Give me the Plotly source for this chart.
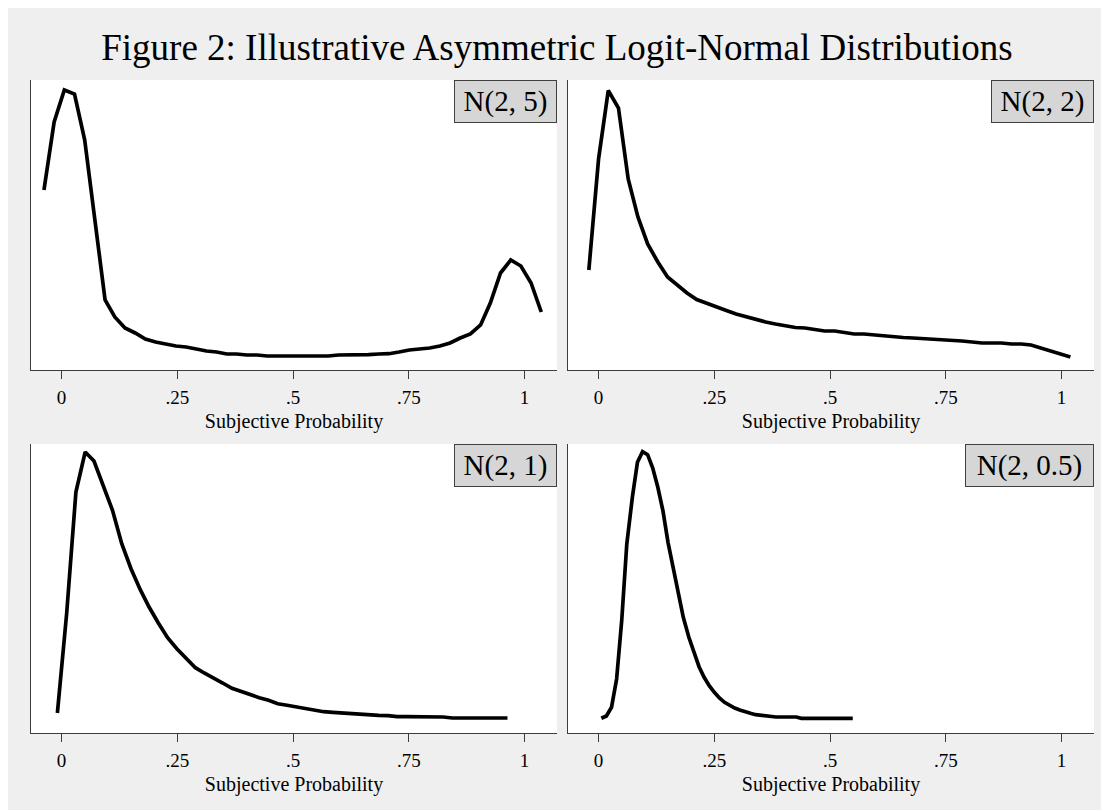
import plotly.graph_objects as go

# Kernel density curves (x = subjective probability, y = density)
x_sd5 = [-0.038, -0.016, 0.006, 0.028, 0.050, 0.072, 0.094, 0.115, 0.137, 0.159,
         0.181, 0.203, 0.225, 0.247, 0.269, 0.291, 0.313, 0.335, 0.357, 0.378,
         0.400, 0.422, 0.444, 0.466, 0.488, 0.510, 0.532, 0.554, 0.576, 0.598,
         0.620, 0.642, 0.663, 0.685, 0.707, 0.729, 0.751, 0.773, 0.795, 0.817,
         0.839, 0.861, 0.883, 0.905, 0.926, 0.948, 0.970, 0.992, 1.014, 1.036]
y_sd5 = [1.80, 2.48, 2.80, 2.76, 2.30, 1.47, 0.70, 0.53, 0.42, 0.37,
         0.31, 0.28, 0.26, 0.24, 0.23, 0.21, 0.19, 0.18, 0.16, 0.16,
         0.15, 0.15, 0.14, 0.14, 0.14, 0.14, 0.14, 0.14, 0.14, 0.15,
         0.15, 0.15, 0.153, 0.16, 0.163, 0.18, 0.20, 0.21, 0.22, 0.24,
         0.27, 0.32, 0.36, 0.45, 0.67, 0.97, 1.10, 1.04, 0.87, 0.58]

x_sd2 = [-0.021, 0.000, 0.021, 0.043, 0.064, 0.085, 0.106, 0.128, 0.149, 0.170,
         0.191, 0.212, 0.234, 0.255, 0.276, 0.297, 0.319, 0.340, 0.361, 0.382,
         0.403, 0.425, 0.446, 0.467, 0.488, 0.510, 0.531, 0.552, 0.573, 0.594,
         0.616, 0.637, 0.658, 0.679, 0.701, 0.722, 0.743, 0.764, 0.785, 0.807,
         0.828, 0.849, 0.870, 0.892, 0.913, 0.934, 0.955, 0.976, 0.998, 1.019]
y_sd2 = [1.00, 2.11, 2.795, 2.62, 1.91, 1.53, 1.26, 1.08, 0.93, 0.85,
         0.77, 0.705, 0.67, 0.635, 0.595, 0.56, 0.53, 0.505, 0.48, 0.46,
         0.44, 0.425, 0.42, 0.405, 0.39, 0.39, 0.375, 0.36, 0.36, 0.35,
         0.34, 0.335, 0.325, 0.32, 0.315, 0.305, 0.30, 0.30, 0.29, 0.28,
         0.27, 0.27, 0.27, 0.26, 0.26, 0.25, 0.22, 0.19, 0.16, 0.13]

x_sd1 = [-0.009, 0.011, 0.031, 0.051, 0.070, 0.090, 0.110, 0.130, 0.150, 0.170,
         0.189, 0.209, 0.229, 0.249, 0.269, 0.289, 0.308, 0.328, 0.348, 0.368,
         0.388, 0.408, 0.427, 0.447, 0.467, 0.487, 0.507, 0.527, 0.547, 0.566,
         0.586, 0.606, 0.626, 0.646, 0.666, 0.685, 0.705, 0.725, 0.745, 0.765,
         0.785, 0.804, 0.824, 0.844, 0.864, 0.884, 0.904, 0.924, 0.943, 0.963]
y_sd1 = [0.20, 1.193, 2.41, 2.81, 2.72, 2.477, 2.227, 1.893, 1.643, 1.433,
         1.26, 1.10, 0.953, 0.843, 0.743, 0.653, 0.60, 0.553, 0.50, 0.447,
         0.413, 0.383, 0.353, 0.327, 0.293, 0.277, 0.26, 0.247, 0.23, 0.213,
         0.207, 0.20, 0.193, 0.183, 0.18, 0.177, 0.173, 0.163, 0.163, 0.163,
         0.163, 0.163, 0.16, 0.15, 0.15, 0.15, 0.15, 0.15, 0.15, 0.15]

x_sd05 = [0.006, 0.017, 0.028, 0.039, 0.050, 0.061, 0.073, 0.084, 0.095, 0.106,
          0.117, 0.128, 0.139, 0.150, 0.161, 0.172, 0.183, 0.195, 0.206, 0.217,
          0.228, 0.239, 0.250, 0.261, 0.272, 0.283, 0.294, 0.305, 0.317, 0.328,
          0.339, 0.350, 0.361, 0.372, 0.383, 0.394, 0.405, 0.416, 0.427, 0.438,
          0.450, 0.461, 0.472, 0.483, 0.494, 0.505, 0.516, 0.527, 0.538, 0.549]
y_sd05 = [0.147, 0.17, 0.257, 0.54, 1.123, 1.89, 2.357, 2.707, 2.813, 2.783,
          2.65, 2.457, 2.223, 1.907, 1.657, 1.407, 1.157, 0.957, 0.807, 0.663,
          0.557, 0.473, 0.407, 0.35, 0.307, 0.273, 0.25, 0.23, 0.217, 0.197,
          0.183, 0.177, 0.17, 0.16, 0.16, 0.16, 0.16, 0.16, 0.16, 0.147,
          0.147, 0.147, 0.147, 0.147, 0.147, 0.147, 0.147, 0.147, 0.147, 0.147]

panel_labels = ["N(2, 5)", "N(2, 2)", "N(2, 1)", "N(2, 0.5)"]
tick_vals = [0, 0.25, 0.5, 0.75, 1]
tick_text = ["0", ".25", ".5", ".75", "1"]

# the page body keeps its default 8px margin, so the figure is laid out 8px in
OX, OY = 8, 8
W, H = 1109 - OX, 810 - OY
FONT = "Liberation Serif"
AXIS_COLOR = "#3c3c3c"


def fx(px):
    return (px - OX) / W


def fy(py):
    return 1 - (py - OY) / H


fig = go.Figure()

series = [(x_sd5, y_sd5), (x_sd2, y_sd2), (x_sd1, y_sd1), (x_sd05, y_sd05)]
# pixel boxes of each plot region: (left, right, top, bottom)
boxes = [(31, 557, 80, 370), (568, 1094, 80, 370),
         (31, 557, 444, 733), (568, 1094, 444, 733)]
box_widths = [97, 97, 97, 123]

shapes = []
for i, ((xs, ys), (l, r, t, b)) in enumerate(zip(series, boxes)):
    n = "" if i == 0 else str(i + 1)
    fig.add_trace(go.Scatter(x=xs, y=ys, mode="lines", xaxis="x" + n, yaxis="y" + n,
                             line=dict(color="black", width=3.7), showlegend=False,
                             hoverinfo="skip"))
    fig.update_layout(**{
        "xaxis" + n: dict(domain=[fx(l), fx(r)], anchor="y" + n, range=[-0.066, 1.070],
                          tickvals=tick_vals, ticktext=tick_text, ticks="outside", ticklen=8,
                          tickcolor=AXIS_COLOR, tickwidth=1, showline=True, linecolor=AXIS_COLOR,
                          linewidth=1.3, showgrid=False, zeroline=False, ticklabelstandoff=2,
                          tickfont=dict(family=FONT, size=19, color="black"),
                          title=dict(text="Subjective Probability", standoff=7,
                                     font=dict(family=FONT, size=20, color="black"))),
        "yaxis" + n: dict(domain=[fy(b), fy(t)], anchor="x" + n,
                          range=[0, (b - t) / 100], showticklabels=False, ticks="",
                          showline=True, linecolor=AXIS_COLOR, linewidth=1.3,
                          showgrid=False, zeroline=False),
    })
    fig.add_annotation(text=panel_labels[i], xref="x" + n + " domain", yref="y" + n + " domain",
                       x=1, y=1, xanchor="right", yanchor="top", showarrow=False,
                       width=box_widths[i], height=37, borderpad=2, borderwidth=1,
                       bordercolor="#404040", bgcolor="#d6d6d6",
                       font=dict(family=FONT, size=29, color="black"))

# thin white frame along the right edge, as in the original export
shapes.append(dict(type="rect", xref="paper", yref="paper", x0=fx(1105), x1=1,
                   y0=0, y1=1, fillcolor="white", line=dict(width=0), layer="below"))

fig.update_layout(
    width=W, height=H,
    margin=dict(l=0, r=0, t=0, b=0),
    paper_bgcolor="#efefef",
    plot_bgcolor="white",
    title=dict(text="Figure 2: Illustrative Asymmetric Logit-Normal Distributions",
               x=fx(557), xanchor="center", y=fy(47), yanchor="middle",
               font=dict(family=FONT, size=37, color="black")),
    shapes=shapes,
)

fig.write_html("out.html")
